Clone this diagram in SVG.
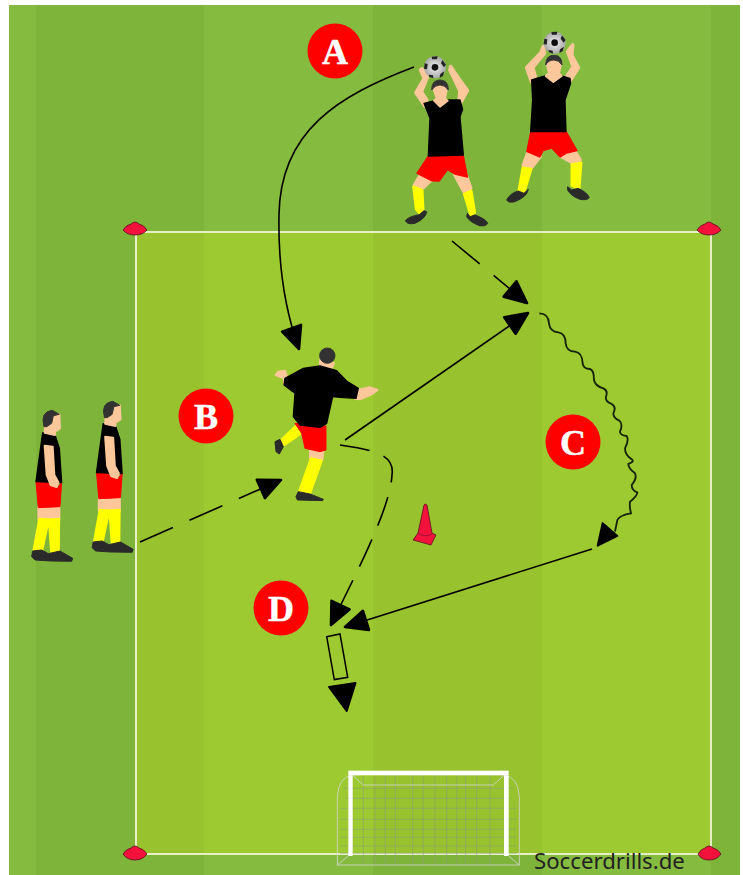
<svg xmlns="http://www.w3.org/2000/svg" xmlns:xlink="http://www.w3.org/1999/xlink" width="743" height="875" viewBox="0 0 743 875">
<style>
.badge{fill:#f00}
.lbl{font-family:"Liberation Serif",serif;font-weight:bold;font-size:36px;fill:#fff;stroke:#fff;stroke-width:.5;text-anchor:middle}
.skin{fill:#fcc79a;stroke:#fcc79a;stroke-width:6;stroke-linejoin:round}
.limb{fill:#fcc79a;stroke:#fcc79a;stroke-width:11;stroke-linejoin:round}
.blk{fill:#000;stroke:#000;stroke-width:4;stroke-linejoin:round}
.red{fill:#f00;stroke:#f00;stroke-width:3;stroke-linejoin:round}
.yel{fill:#ff0;stroke:#ff0;stroke-width:7;stroke-linejoin:round}
.shoe{fill:#2a2a2a;stroke:#2a2a2a;stroke-width:3;stroke-linejoin:round}
.hair{fill:#333;stroke:#333;stroke-width:3;stroke-linejoin:round}
.fig{filter:url(#soft)}
.ln{fill:none;stroke:#000;stroke-width:1.6}
.dash{stroke-dasharray:36 18}
.cone{fill:#f2123c;stroke:#5a1020;stroke-width:.8}
.netb{fill:none;stroke:#d2d6cc;stroke-width:3;opacity:.85}
.net{fill:none;stroke:#8e9a7e;stroke-width:2.4;opacity:.65}
</style>
<defs>
<filter id="soft" x="-10%" y="-10%" width="120%" height="120%"><feGaussianBlur stdDeviation="0.4"/></filter>
<marker id="ah" markerUnits="userSpaceOnUse" markerWidth="30" markerHeight="28" refX="23" refY="12" orient="auto" overflow="visible">
<path d="M1,2 L23,12 L1,22 Z" fill="#000" stroke="#000" stroke-width="2.6" stroke-linejoin="round"/>
</marker>
<radialGradient id="bg"><stop offset="0" stop-color="#f2f2f2"/><stop offset="1" stop-color="#a8a8a8"/></radialGradient>
<g id="ball">
<circle r="33" fill="url(#bg)"/>
<circle r="10" fill="#111"/>
<path d="M-10,-32 L8,-33 L6,-24 L-8,-24Z M22,-22 L33,-8 L27,0 L18,-12Z M-31,-12 L-22,-10 L-24,6 L-33,4Z M-18,22 L-6,24 L-5,33 L-18,28Z M16,20 L28,12 L24,26 L14,31Z" fill="#222"/>
</g>
<g id="stander">
<path class="skin" d="M55,335 L118,332 L118,375 L55,375Z"/>
<path class="yel" d="M58,372 L86,374 L66,468 L41,466Z M87,374 L117,372 L116,468 L94,472Z"/>
<path class="shoe" d="M38,468 L65,465 L85,476 L120,468 L158,490 L155,499 L90,498 L45,495 L35,485Z"/>
<path class="red" d="M48,260 L80,258 L92,275 L112,278 L125,262 L120,335 L55,338Z"/>
<path class="blk" d="M68,113 L105,120 L118,160 L125,263 L48,260Z"/>
<path class="skin" d="M74,152 L98,155 L103,240 L115,262 L110,276 L92,270 L80,240Z"/>
<path class="skin" d="M78,60 L118,58 L120,100 L105,110 L105,120 L74,113Z"/>
<path class="hair" d="M72,95 Q60,50 97,46 L118,58 L100,62 L95,85 L80,95Z"/>
</g>
</defs>

<g id="pitch">
<rect x="9" y="5" width="731" height="870" fill="#85bb3e"/>
<rect x="36" y="5" width="168" height="870" fill="#7fb43b"/>
<rect x="373" y="5" width="169" height="870" fill="#7fb43b"/>
<rect x="711" y="5" width="29" height="870" fill="#7fb43b"/>
<rect x="136" y="232" width="575" height="622" fill="#9dca30"/>
<rect x="136" y="232" width="68" height="622" fill="#98c22e"/>
<rect x="373" y="232" width="169" height="622" fill="#98c22e"/>
<rect x="136" y="232" width="575" height="622" fill="none" stroke="#e6f0c4" stroke-width="2"/>
</g>

<g id="goal" transform="translate(320,760) scale(.3333)">
<path class="net" d="M130,46 V315 M165,46 V315 M196,46 V315 M226,46 V315 M278,46 V315 M310,46 V315 M345,46 V315 M380,46 V315 M410,46 V315 M437,46 V315 M470,46 V315 M510,46 V315 M70,85 H580 M75,115 H575 M60,145 H590 M60,178 H590 M60,208 H590 M60,232 H590 M60,258 H590 M60,280 H590"/>
<path class="netb" d="M52,315 V110 Q55,50 98,46 M598,315 V110 Q595,50 552,46 M52,315 H598 M52,315 L85,288 M598,315 L566,288 M130,75 H520 M98,46 L130,75 M552,46 L520,75"/>
<rect x="85" y="32" width="481" height="14" fill="#fff"/>
<rect x="85" y="46" width="13" height="242" fill="#fff"/>
<rect x="552" y="46" width="14" height="242" fill="#fff"/>
</g>

<g id="cones">
<path class="cone" d="M123,230 Q126,225 131,224 Q135,220 139,224 Q144,225 147,230 Q143,235 135,235 Q127,235 123,230Z"/>
<path class="cone" d="M697,230 Q700,225 705,224 Q709,220 713,224 Q718,225 721,230 Q717,235 709,235 Q701,235 697,230Z"/>
<path class="cone" d="M123,854 Q126,849 131,848 Q135,844 139,848 Q144,849 147,854 Q143,860 135,860 Q127,860 123,854Z"/>
<path class="cone" d="M698,854 Q701,849 705,848 Q709,844 713,848 Q718,849 721,854 Q717,860 709,860 Q701,860 698,854Z"/>
<path class="cone" d="M424,505 Q425,503 427,505 L432,533 L436,535 L431,545 L413,540 L418,533 Z"/>
<path d="M418,533 Q425,538 432,534" fill="none" stroke="#a01030" stroke-width="1"/>
</g>

<g id="connectors">
<path class="ln" marker-end="url(#ah)" d="M414,67 C340,95 280,130 279,215 C278,265 285,310 299,349"/>
<path class="ln dash" marker-end="url(#ah)" d="M452,241 L527,303"/>
<path class="ln" marker-end="url(#ah)" d="M345,440 L528,313"/>
<path class="ln dash" marker-end="url(#ah)" d="M140,542 L281,480"/>
<path class="ln" style="stroke-dasharray:30 15" marker-end="url(#ah)" d="M340,445 C375,450 395,455 392,475 C390,510 355,575 331,625"/>
<path class="ln" marker-end="url(#ah)" d="M592,549 L345,627"/>
<g transform="translate(520,300) scale(.3333)">
<path fill="none" stroke="#16240c" stroke-width="5.5" d="M58,40 Q85,40 87,70 Q90,95 115,97 Q137,100 137,130 Q140,155 165,155 Q187,158 188,190 Q190,207 210,207 Q222,210 222,240 Q225,258 250,265 Q265,272 258,290 Q255,305 275,312 Q290,320 280,340 Q280,355 298,362 Q310,372 300,395 Q300,405 320,408 Q328,420 315,445 Q315,465 335,478 Q345,485 325,492 Q325,505 345,520 Q352,535 335,555 Q335,570 352,578 Q350,590 330,605 Q328,620 333,640 Q300,645 292,660 Q288,680 285,695"/>
<path fill="#000" stroke="#000" stroke-width="6" stroke-linejoin="round" d="M248,670 L292,708 L233,737Z"/>
</g>
<path fill="none" stroke="#000" stroke-width="1.5" d="M326.7,636.7 L340,634 L347.7,677.3 L334.3,679.6Z"/>
<path fill="#000" stroke="#000" stroke-width="2" stroke-linejoin="round" d="M329,687 L355.5,683 L346.7,711Z"/>
</g>

<g id="badge-a"><circle class="badge" cx="335" cy="51" r="27.5"/><text class="lbl" x="335" y="64">A</text></g>
<g id="badge-b"><circle class="badge" cx="206" cy="416" r="27.5"/><text class="lbl" x="206" y="429">B</text></g>
<g id="badge-c"><circle class="badge" cx="573" cy="442" r="27.5"/><text class="lbl" x="573" y="455">C</text></g>
<g id="badge-d"><circle class="badge" cx="281" cy="608" r="27.5"/><text class="lbl" x="281" y="621">D</text></g>

<g id="thrower-1" class="fig" transform="translate(380,20) scale(.3333)">
<path class="limb" d="M125,460 L104,495 L105,502 L130,502 L155,478Z M225,465 L252,515 L272,505 L258,465Z"/>
<path class="yel" d="M100,500 L127,510 L130,570 L118,580 L108,568Z M252,522 L274,512 L285,578 L272,587Z"/>
<path class="shoe" d="M76,602 Q85,590 118,584 L132,572 L140,575 Q138,595 105,610 Q82,615 76,602Z M262,580 L270,590 L285,585 Q318,597 323,610 Q318,620 298,617 Q268,605 260,590Z"/>
<path class="red" d="M145,407 L250,405 L263,472 L225,463 L203,450 L178,484 L155,483 L110,460Z"/>
<path class="limb" d="M135,258 L108,218 L133,175 L122,150 L126,147 L142,172 L124,215 L140,240Z M236,258 L238,238 L240,212 L210,150 L212,140 L223,157 L262,212Z"/>
<path class="blk" d="M132,250 L165,242 L180,262 L200,240 L240,240 L248,268 L240,290 L250,405 L145,408 L150,295Z"/>
<path class="skin" d="M160,205 Q160,195 180,195 Q203,195 201,205 L195,235 L203,242 L180,260 L162,242 L170,235Z"/>
<path class="hair" d="M155,210 Q155,180 180,180 Q205,180 205,210 Q195,195 180,195 Q165,195 155,210Z"/>
<use xlink:href="#ball" href="#ball" x="165" y="142"/>
</g>

<g id="thrower-2" class="fig" transform="translate(380,20) scale(.3333)">
<path class="limb" d="M445,395 L480,410 L455,442 L430,436Z M545,410 L585,395 L600,420 L578,428Z"/>
<path class="yel" d="M428,443 L454,447 L433,517 L416,512Z M575,433 L604,428 L598,507 L575,497Z"/>
<path class="shoe" d="M380,540 Q390,520 415,513 L432,520 L445,508 Q442,530 405,545 Q385,550 380,540Z M563,500 L575,510 L595,505 Q622,518 628,533 Q620,542 600,538 Q572,528 563,510Z"/>
<path class="red" d="M452,335 L558,333 L592,392 L560,400 L540,412 L515,385 L490,392 L480,412 L440,395Z"/>
<path class="limb" d="M455,185 L440,143 L483,98 L490,80 L493,100 L458,143 L466,170Z M568,185 L560,170 L580,140 L563,95 L578,75 L575,105 L595,143Z"/>
<path class="blk" d="M455,180 L495,168 L520,188 L545,168 L570,175 L572,190 L555,240 L558,335 L452,335 L458,240Z"/>
<path class="skin" d="M499,125 Q500,118 520,118 Q545,118 544,128 L537,160 L545,168 L520,186 L497,168 L507,160Z"/>
<path class="hair" d="M497,135 Q497,106 522,106 Q547,106 546,135 Q537,120 522,120 Q505,120 497,135Z"/>
<use xlink:href="#ball" href="#ball" x="524" y="68"/>
</g>

<g id="kicker" class="fig" transform="translate(260,340) scale(.3333)">
<path class="skin" d="M180,60 L222,70 L215,85 L180,80Z M150,332 L190,335 L187,360 L150,355Z"/>
<circle class="hair" cx="202" cy="47" r="23"/>
<path class="yel" d="M107,258 L120,283 L72,315 L62,302Z M153,355 L185,362 L150,460 L118,453Z"/>
<path class="shoe" d="M115,455 L150,462 L190,478 L188,482 L112,480 L108,470Z M45,305 L60,298 L70,320 L58,342 L48,335Z"/>
<path class="red" d="M105,250 L198,258 L198,330 L180,335 L135,325 L125,280Z"/>
<path class="skin" d="M72,115 L47,105 L55,95 L75,92 L82,115 L72,132Z M290,150 L330,142 L353,150 L335,163 L300,178 L285,176Z"/>
<path class="blk" d="M75,115 L130,85 L180,78 L230,92 L262,125 L295,145 L288,175 L240,172 L218,170 L200,250 L180,262 L120,255 L100,230 L105,160 L95,152 L72,135Z"/>
</g>

<g id="stander-1" class="fig" transform="translate(20,395) scale(.3333)"><use xlink:href="#stander" href="#stander"/></g>
<g id="stander-2" class="fig" transform="translate(80.5,386) scale(.3333)"><use xlink:href="#stander" href="#stander"/></g>

<text id="credit" x="534" y="869" font-family="'Noto Sans','Open Sans',sans-serif" font-size="22.2" fill="#222">Soccerdrills.de</text>
</svg>
